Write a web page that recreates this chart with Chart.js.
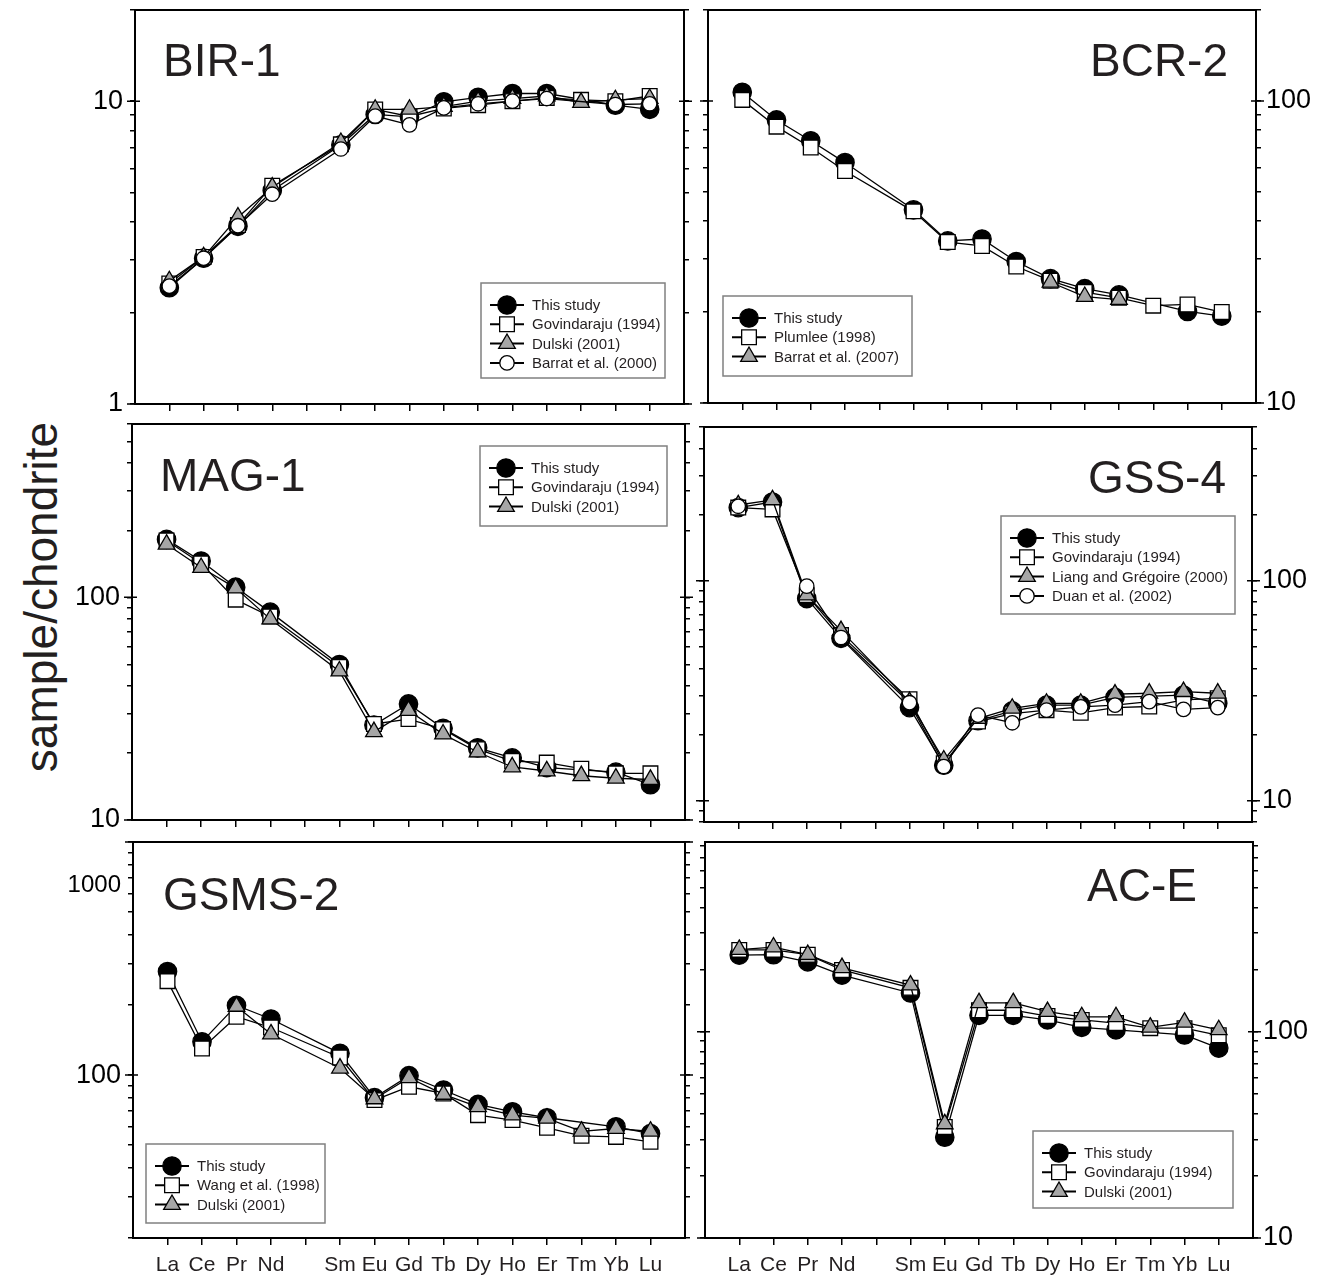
<!DOCTYPE html>
<html lang="en">
<head>
<meta charset="UTF-8">
<title>REE chondrite-normalised patterns</title>
<script src="https://cdn.jsdelivr.net/npm/chart.js@4"></script>
<style>
  html, body { margin: 0; padding: 0; background: #fff; overflow: hidden; }
  #fig { position: relative; width: 1326px; height: 1282px; }
  #fig canvas { position: absolute; }
  #ylabel {
    position: absolute; left: 41px; top: 597px;
    transform: translate(-50%, -50%) rotate(-90deg);
    font: 46px "Liberation Sans", Arial, sans-serif; color: #231f20; white-space: nowrap;
  }
</style>
</head>
<body>
<div id="fig">
  <div id="ylabel">sample/chondrite</div>
</div>
<script>
// rare earth elements on the x axis (Pm has no data, only a tick)
const ree = ['La', 'Ce', 'Pr', 'Nd', 'Pm', 'Sm', 'Eu', 'Gd', 'Tb', 'Dy', 'Ho', 'Er', 'Tm', 'Yb', 'Lu'];

// BIR-1
const bir1Study       = [2.42, 3.03, 3.86, 5.07, null, 7.17, 9.04, 8.87, 9.95, 10.3, 10.6, 10.6, null, 9.7, 9.4];
const bir1Govindaraju = [2.5, 3.06, 3.9, 5.26, null, 7.2, 9.39, 8.9, 9.46, 9.7, 10.0, 10.25, 10.1, 10.0, 10.4];
const bir1Dulski      = [2.55, 3.06, 4.14, 5.2, null, 7.3, 9.4, 9.4, 9.6, 10.0, 10.2, 10.4, 9.9, 10.1, 10.2];
const bir1Barrat      = [2.45, 3.03, 3.88, 4.93, null, 6.95, 8.93, 8.35, 9.5, 9.8, 10.0, 10.2, null, 9.75, 9.8];

// BCR-2
const bcr2Study   = [106.8, 86.5, 73.8, 62.5, null, 43.6, 34.4, 34.9, 29.4, 25.8, 23.9, 22.8, null, 20.1, 19.4];
const bcr2Plumlee = [100.8, 82.2, 70.1, 58.6, null, 43.1, 34.1, 33.1, 28.3, 25.4, 23.3, 22.3, 21.0, 21.2, 20.0];
const bcr2Barrat  = [null, null, null, null, null, null, null, null, null, 25.1, 22.5, 22.0, null, null, null];

// MAG-1
const mag1Study       = [182, 145.5, 111, 85.8, null, 49.9, 26.7, 33.2, 25.8, 21.1, 19.0, 17.2, null, 16.4, 14.4];
const mag1Govindaraju = [180, 142, 97.6, 82, null, 48.7, 27, 28.4, 25.6, 20.8, 18.4, 18.1, 17.0, 16.2, 16.2];
const mag1Dulski      = [173, 136, 110, 79.8, null, 46.6, 24.9, 31, 24.3, 20.2, 17.3, 16.6, 15.8, 15.4, 15.2];

// GSS-4
const gss4Study       = [215, 228, 83, 54.7, null, 26.5, 14.5, 23.1, 25.6, 27.2, 27.2, 29.5, null, 30.2, 27.7];
const gss4Govindaraju = [215, 211, 86, 56.6, null, 28.9, 14.8, 22.9, 24.9, 25.8, 25.1, 26.5, 26.8, 28.7, 29.2];
const gss4Liang       = [221, 233, 86, 59.3, null, 28.2, 15.3, 23.6, 26.3, 27.7, 27.7, 30.5, 30.8, 31.3, 30.8];
const gss4Duan        = [218, null, 94.5, 55.2, null, 27.9, 14.3, 24.5, 22.6, 25.8, 26.7, 27.2, 28.2, 26.0, 26.5];

// GSMS-2
const gsms2Study  = [278, 139, 199, 174, null, 124, 80, 99.4, 86.3, 74.8, 69.6, 65.6, null, 60, 56.1];
const gsms2Wang   = [253, 130, 178, 160, null, 119, 78.1, 89.1, 83.4, 67.3, 64.1, 59.4, 54.9, 54.3, 51.7];
const gsms2Dulski = [null, null, 197, 150, null, 107, 79, 97.4, 82.6, 73.1, 67.3, 65.2, 57.4, 59.0, 57.4];

// AC-E
const aceStudy       = [235, 236, 218, 188, null, 154, 30.8, 120, 120, 114, 105, 102, null, 96.4, 83.3];
const aceGovindaraju = [249, 249, 236, 199, null, 163, 34.5, 127, 127, 119, 114, 110, 104, 104, 96];
const aceDulski      = [250, 257, 236, 204, null, 168, 35.7, 138, 138, 125, 118, 118, 105, 111, 102];

const FONT = '"Liberation Sans", Arial, sans-serif';
const INK = '#231f20';

const markers = {
  study:    { shape: 'circle',   r: 9.2,  fill: '#000000' },
  square:   { shape: 'rect',     r: 10.4, fill: '#ffffff' },
  triangle: { shape: 'triangle', r: 9.6,  fill: '#a6a6a6' },
  open:     { shape: 'circle',   r: 7.2,  fill: '#ffffff' }
};

const panels = [
  { title: 'BIR-1', box: [135, 10, 684, 404], min: 1, max: 20, side: 'left', xLabels: false,
    ticksLabelled: [{ v: 1 }, { v: 10 }],
    titleAt: { dx: 28, dy: 66, align: 'left' },
    legend: { x: 346, y: 273, w: 184, h: 95 },
    series: [
      { name: 'This study', mark: 'study', data: bir1Study },
      { name: 'Govindaraju (1994)', mark: 'square', data: bir1Govindaraju },
      { name: 'Dulski (2001)', mark: 'triangle', data: bir1Dulski },
      { name: 'Barrat et al. (2000)', mark: 'open', data: bir1Barrat }
    ] },
  { title: 'BCR-2', box: [708, 10, 1256, 403], min: 10, max: 200, side: 'right', xLabels: false,
    ticksLabelled: [{ v: 10 }, { v: 100 }],
    titleAt: { dx: -28, dy: 66, align: 'right' },
    legend: { x: 15, y: 286, w: 189, h: 80 },
    series: [
      { name: 'This study', mark: 'study', data: bcr2Study },
      { name: 'Plumlee (1998)', mark: 'square', data: bcr2Plumlee },
      { name: 'Barrat et al. (2007)', mark: 'triangle', data: bcr2Barrat }
    ] },
  { title: 'MAG-1', box: [132, 424, 685, 820], min: 10, max: 600, side: 'left', xLabels: false,
    ticksLabelled: [{ v: 10 }, { v: 100 }],
    titleAt: { dx: 28, dy: 67, align: 'left' },
    legend: { x: 348, y: 22, w: 187, h: 80 },
    series: [
      { name: 'This study', mark: 'study', data: mag1Study },
      { name: 'Govindaraju (1994)', mark: 'square', data: mag1Govindaraju },
      { name: 'Dulski (2001)', mark: 'triangle', data: mag1Dulski }
    ] },
  { title: 'GSS-4', box: [704, 427, 1252, 822], min: 8, max: 500, side: 'right', xLabels: false,
    ticksLabelled: [{ v: 10 }, { v: 100 }],
    titleAt: { dx: -26, dy: 66, align: 'right' },
    legend: { x: 297, y: 89, w: 234, h: 98 },
    series: [
      { name: 'This study', mark: 'study', data: gss4Study },
      { name: 'Govindaraju (1994)', mark: 'square', data: gss4Govindaraju },
      { name: 'Liang and Grégoire (2000)', mark: 'triangle', data: gss4Liang },
      // Ce missing: the line is broken there rather than joined
      { name: 'Duan et al. (2002)', mark: 'open', data: gss4Duan, join: false }
    ] },
  { title: 'GSMS-2', box: [133, 842, 685, 1238], min: 20, max: 1000, side: 'left', xLabels: true,
    ticksLabelled: [{ v: 100 }, { v: 1000, shift: 43, size: 24 }],
    titleAt: { dx: 30, dy: 68, align: 'left' },
    legend: { x: 13, y: 302, w: 179, h: 79 },
    series: [
      { name: 'This study', mark: 'study', data: gsms2Study },
      { name: 'Wang et al. (1998)', mark: 'square', data: gsms2Wang },
      { name: 'Dulski (2001)', mark: 'triangle', data: gsms2Dulski }
    ] },
  { title: 'AC-E', box: [705, 842, 1253, 1238], min: 10, max: 830, side: 'right', xLabels: true,
    ticksLabelled: [{ v: 10 }, { v: 100 }],
    titleAt: { dx: -56, dy: 59, align: 'right' },
    legend: { x: 328, y: 289, w: 200, h: 77 },
    series: [
      { name: 'This study', mark: 'study', data: aceStudy },
      { name: 'Govindaraju (1994)', mark: 'square', data: aceGovindaraju },
      { name: 'Dulski (2001)', mark: 'triangle', data: aceDulski }
    ] }
];

const PAD_L = 70, PAD_R = 70, PAD_T = 14, PAD_B = 42;

function logTicks(min, max) {
  const out = [];
  for (let k = Math.floor(Math.log10(min)); k <= Math.ceil(Math.log10(max)); k++) {
    for (let m = 1; m <= 9; m++) {
      const v = m * Math.pow(10, k);
      if (v >= min * 0.999 && v <= max * 1.001) out.push(v);
    }
  }
  return out;
}

function drawMarker(ctx, mk, x, y) {
  ctx.save();
  ctx.fillStyle = mk.fill;
  ctx.strokeStyle = '#000';
  ctx.lineWidth = 1.3;
  ctx.beginPath();
  if (mk.shape === 'circle') {
    ctx.arc(x, y, mk.r, 0, Math.PI * 2);
  } else if (mk.shape === 'rect') {
    const s = mk.r * Math.SQRT1_2;
    ctx.rect(x - s, y - s, 2 * s, 2 * s);
  } else {
    ctx.moveTo(x, y - mk.r);
    ctx.lineTo(x + 0.866 * mk.r, y + 0.5 * mk.r);
    ctx.lineTo(x - 0.866 * mk.r, y + 0.5 * mk.r);
  }
  ctx.closePath();
  ctx.fill();
  ctx.stroke();
  ctx.restore();
}

// box, long decade ticks, y labels, title and the inset legend
function framePlugin(p) {
  return {
    id: 'frame',
    afterDatasetsDraw(chart) {
      const ctx = chart.ctx, a = chart.chartArea, L = p.legend;
      const lx = a.left + L.x, ly = a.top + L.y;
      ctx.save();
      ctx.fillStyle = '#fff';
      ctx.fillRect(lx, ly, L.w, L.h);
      ctx.strokeStyle = '#808080';
      ctx.lineWidth = 1.5;
      ctx.strokeRect(lx, ly, L.w, L.h);
      ctx.font = '15px ' + FONT;
      ctx.textBaseline = 'middle';
      p.series.forEach((s, i) => {
        const cy = ly + 22 + i * 19.3;
        ctx.strokeStyle = '#000';
        ctx.lineWidth = 2;
        ctx.beginPath();
        ctx.moveTo(lx + 9, cy);
        ctx.lineTo(lx + 43, cy);
        ctx.stroke();
        drawMarker(ctx, markers[s.mark], lx + 26, cy);
        ctx.fillStyle = INK;
        ctx.fillText(s.name, lx + 51, cy + 1);
      });
      ctx.restore();
    },
    afterDraw(chart) {
      const ctx = chart.ctx, a = chart.chartArea, y = chart.scales.yl;
      ctx.save();
      ctx.strokeStyle = '#000';
      ctx.lineWidth = 2;
      ctx.strokeRect(a.left, a.top, a.right - a.left, a.bottom - a.top);
      ctx.lineWidth = 1.5;
      logTicks(p.min, p.max).filter(v => Math.abs(Math.log10(v) % 1) < 1e-9).forEach(v => {
        const py = y.getPixelForValue(v);
        ctx.beginPath();
        ctx.moveTo(a.left - 8, py); ctx.lineTo(a.left + 5, py);
        ctx.moveTo(a.right - 5, py); ctx.lineTo(a.right + 8, py);
        ctx.stroke();
      });
      ctx.fillStyle = '#000';
      ctx.textBaseline = 'middle';
      p.ticksLabelled.forEach(t => {
        ctx.font = (t.size || 27) + 'px ' + FONT;
        const py = y.getPixelForValue(t.v) + (t.shift || 0);
        if (p.side === 'left') {
          ctx.textAlign = 'right';
          ctx.fillText(String(t.v), a.left - 12, py);
        } else {
          ctx.textAlign = 'left';
          ctx.fillText(String(t.v), a.right + 10, py);
        }
      });
      ctx.font = '46px ' + FONT;
      ctx.fillStyle = INK;
      ctx.textBaseline = 'alphabetic';
      ctx.textAlign = p.titleAt.align;
      const tx = p.titleAt.align === 'left' ? a.left + p.titleAt.dx : a.right + p.titleAt.dx;
      ctx.fillText(p.title, tx, a.top + p.titleAt.dy);
      ctx.restore();
    }
  };
}

function yAxis(p, position, width) {
  return {
    type: 'logarithmic',
    position: position,
    min: p.min,
    max: p.max,
    afterBuildTicks: s => { s.ticks = logTicks(p.min, p.max).map(v => ({ value: v })); },
    afterFit: s => { s.width = width; },
    grid: { drawOnChartArea: false, drawTicks: true, tickLength: 5, color: '#000', lineWidth: 1.5 },
    border: { display: false },
    ticks: { display: false }
  };
}

const fig = document.getElementById('fig');

panels.forEach(p => {
  const [x0, y0, x1, y1] = p.box;
  const canvas = document.createElement('canvas');
  const w = (x1 - x0) + PAD_L + PAD_R, h = (y1 - y0) + PAD_T + PAD_B;
  canvas.width = w;
  canvas.height = h;
  canvas.style.left = (x0 - PAD_L) + 'px';
  canvas.style.top = (y0 - PAD_T) + 'px';
  canvas.style.width = w + 'px';
  canvas.style.height = h + 'px';
  fig.appendChild(canvas);

  const n = p.series.length;
  const datasets = p.series.map((s, i) => {
    const mk = markers[s.mark];
    // Pm is only an empty slot on the axis, so it is left out of the points
    const pts = ree.map((el, k) => ({ x: k, y: s.data[k] })).filter(pt => ree[pt.x] !== 'Pm');
    return {
      label: s.name,
      data: pts,
      order: n - i,
      xAxisID: 'x',
      yAxisID: 'yl',
      borderColor: '#000',
      borderWidth: 1.3,
      pointStyle: mk.shape,
      pointRadius: mk.r,
      pointHoverRadius: mk.r,
      pointBackgroundColor: mk.fill,
      pointBorderColor: '#000',
      pointBorderWidth: 1.3,
      spanGaps: s.join !== false,
      tension: 0,
      fill: false
    };
  });

  new Chart(canvas, {
    type: 'line',
    data: { datasets: datasets },
    options: {
      responsive: false,
      animation: false,
      events: [],
      layout: { padding: { top: PAD_T, left: 0, right: 0, bottom: 0 } },
      plugins: { legend: { display: false }, tooltip: { enabled: false } },
      scales: {
        x: {
          type: 'linear',
          position: 'bottom',
          min: -1,
          max: 15,
          afterBuildTicks: s => { s.ticks = ree.map((el, k) => ({ value: k })); },
          afterFit: s => { s.height = PAD_B; },
          grid: { drawOnChartArea: false, drawTicks: true, tickLength: 7, color: '#000', lineWidth: 1.5 },
          border: { display: false },
          ticks: {
            display: p.xLabels,
            autoSkip: false,
            maxRotation: 0,
            padding: 8,
            color: INK,
            font: { family: FONT, size: 21 },
            callback: v => (ree[v] === 'Pm' ? '' : ree[v])
          }
        },
        yl: yAxis(p, 'left', PAD_L),
        yr: yAxis(p, 'right', PAD_R)
      }
    },
    plugins: [framePlugin(p)]
  });
});
</script>
</body>
</html>
